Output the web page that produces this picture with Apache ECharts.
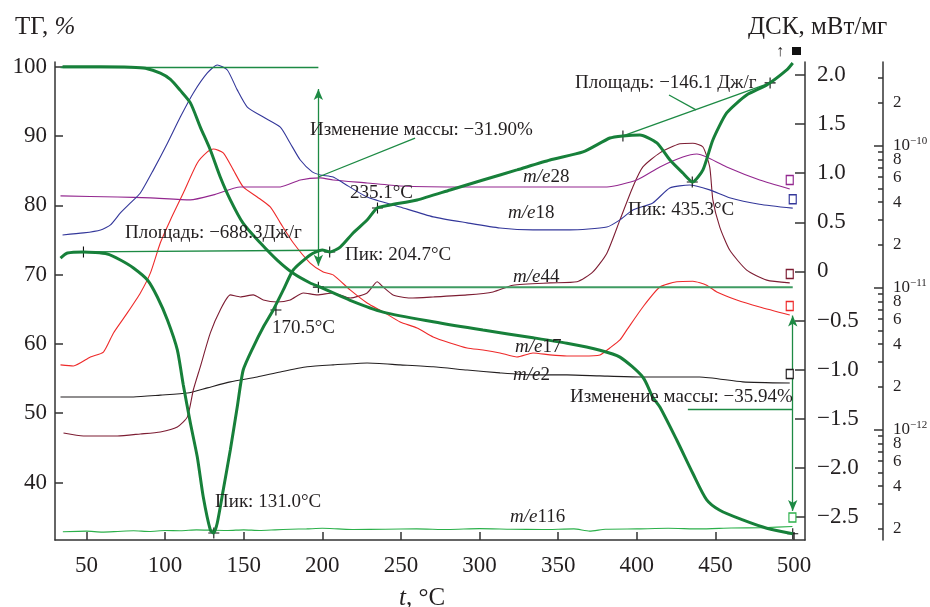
<!DOCTYPE html>
<html><head><meta charset="utf-8">
<script src="https://cdn.jsdelivr.net/npm/echarts@6/dist/echarts.min.js"></script>
<style>html,body{margin:0;padding:0;background:#fff}#c{width:930px;height:607px}</style>
</head><body><div id="c"></div>
<script>
// ---- data ----
const xTicks = [50,100,150,200,250,300,350,400,450,500];
const tgTicks = [40,50,60,70,80,90,100];
const dscTicks = [-2.5,-2.0,-1.5,-1.0,-0.5,0,0.5,1.0,1.5,2.0];
const ionLabelTicks = [2e-13,4e-13,6e-13,8e-13,1e-12,2e-12,4e-12,6e-12,8e-12,1e-11,2e-11,4e-11,6e-11,8e-11,1e-10,2e-10];
const ionDecades = [1e-12,1e-11,1e-10];
const ionMinor = [2e-13,3e-13,4e-13,5e-13,6e-13,7e-13,8e-13,9e-13,2e-12,3e-12,4e-12,5e-12,6e-12,7e-12,8e-12,9e-12,2e-11,3e-11,4e-11,5e-11,6e-11,7e-11,8e-11,9e-11,2e-10,3e-10];

// TG, %
const tg = [[34.8,100.0],[58.9,100.0],[78,99.95],[87.5,99.8],[97,99.1],[103.4,98.2],[109.7,96.6],[116.1,94.8],[122.4,91.3],[128.8,88.0],[135.1,84.1],[141.5,80.8],[149.7,77.4],[160.5,74.6],[171.3,72.1],[181.5,70.2],[192.3,68.8],[198.7,68.2],[217.7,66.3],[238.7,64.6],[270.5,63.2],[302.2,62.0],[334,60.9],[355.6,60.1],[376.6,59.1],[389.3,58.1],[403.9,55.2],[410.2,52.3],[414.7,50.9],[425.5,46.1],[435.7,41.3],[444.5,37.5],[452.8,36.0],[467.4,34.6],[482.7,33.4],[499.2,32.6]];
// DSC, mW/mg
const dsc = [[33.5,0.136],[37.9,0.187],[48.1,0.198],[63.3,0.177],[71.6,0.116],[79.9,0.035],[88.8,-0.088],[95.1,-0.261],[101.5,-0.495],[107.8,-0.800],[111.6,-1.157],[116.1,-1.544],[120.5,-1.890],[124.3,-2.297],[128.8,-2.633],[130.9,-2.664],[133.2,-2.562],[137.0,-2.226],[141.5,-1.819],[145.9,-1.381],[149.7,-1.004],[156.1,-0.770],[162.5,-0.566],[168.8,-0.393],[175.2,-0.189],[181.5,0.014],[192.3,0.167],[199.9,0.218],[205.0,0.198],[211.4,0.248],[219.6,0.391],[228.5,0.523],[234.9,0.646],[243.1,0.676],[260.3,0.727],[281.3,0.829],[302.2,0.931],[323.8,1.033],[344.8,1.134],[365.8,1.216],[382.9,1.358],[391.2,1.379],[402,1.389],[412.8,1.308],[421.1,1.134],[429.3,1.002],[435.5,0.910],[442.1,1.033],[448.4,1.338],[457.2,1.613],[469.9,1.796],[482.7,1.898],[495.4,2.051],[499.2,2.122]];
// ion currents, A
const ms18 = [[34.8,2.35e-11],[48.1,2.43e-11],[59,2.55e-11],[65.3,2.77e-11],[71.6,3.36e-11],[78,3.95e-11],[84.3,4.64e-11],[92.6,6.75e-11],[101.5,1.04e-10],[109.7,1.59e-10],[118,2.35e-10],[126.9,3.25e-10],[133.2,3.70e-10],[139.6,3.41e-10],[145.9,2.47e-10],[152.3,1.87e-10],[162.5,1.59e-10],[173.3,1.35e-10],[179.6,1.04e-10],[186,7.92e-11],[193.6,6.53e-11],[198.7,6.22e-11],[206.9,6.02e-11],[213.3,5.46e-11],[228.5,4.35e-11],[249.5,3.70e-11],[270.5,3.15e-11],[292.1,2.86e-11],[313,2.63e-11],[334,2.55e-11],[357.5,2.55e-11],[381,2.67e-11],[389.3,3.0e-11],[397.5,3.52e-11],[410.2,3.95e-11],[421,5.03e-11],[433.7,5.28e-11],[446.4,4.88e-11],[459,4.3e-11],[478,3.87e-11],[499.2,3.63e-11]];
const ms28 = [[33.5,4.43e-11],[69.7,4.35e-11],[90.7,4.29e-11],[116,4.15e-11],[130.7,4.5e-11],[147.8,5.12e-11],[173.3,5.12e-11],[186,5.73e-11],[198.7,5.93e-11],[206.9,5.73e-11],[228.5,5.46e-11],[249.5,5.2e-11],[292,5.12e-11],[334,5.12e-11],[381,5.12e-11],[400,5.73e-11],[414.7,7.08e-11],[429.3,8.32e-11],[438.2,8.74e-11],[444.5,8.32e-11],[457.2,7.08e-11],[478.2,5.73e-11],[497.3,4.95e-11]];
const ms17 = [[33.5,2.86e-12],[41.7,2.81e-12],[52.5,3.25e-12],[60.8,3.52e-12],[67.2,4.8e-12],[76,6.64e-12],[84.3,9.18e-12],[90.7,1.27e-11],[97,2.07e-11],[103.4,3.0e-11],[111.6,4.64e-11],[120.5,7.55e-11],[126.9,9.03e-11],[130.7,9.48e-11],[137,8.89e-11],[143.4,6.75e-11],[149.7,5.12e-11],[158.6,4.35e-11],[166.9,3.70e-11],[173.3,2.86e-11],[181.5,2.07e-11],[192.3,1.49e-11],[200.6,1.29e-11],[206.9,1.23e-11],[217.7,9.64e-12],[228.5,7.8e-12],[238.7,6.75e-12],[249.5,5.73e-12],[260.3,5.2e-12],[270.5,4.5e-12],[281.3,4.08e-12],[292.1,3.76e-12],[302.2,3.64e-12],[313,3.47e-12],[323.8,3.25e-12],[334,3.47e-12],[344.8,3.36e-12],[355.6,3.3e-12],[365.8,3.3e-12],[376.6,3.36e-12],[382.9,3.76e-12],[389.3,4.28e-12],[393.7,5.04e-12],[403.9,7.31e-12],[414.7,1.01e-11],[425.5,1.10e-11],[435.7,1.11e-11],[444.5,1.04e-11],[450.9,9.33e-12],[463.6,8.19e-12],[478.2,7.31e-12],[497.3,6.42e-12]];
const ms44 = [[35.4,9.48e-13],[48.1,9.03e-13],[69.7,9.03e-13],[84.3,9.33e-13],[97,9.64e-13],[107.8,1.045e-12],[114.2,1.23e-12],[118,1.91e-12],[122.4,2.77e-12],[128.8,4.8e-12],[135.1,6.97e-12],[141.5,8.89e-12],[147.8,8.6e-12],[156.1,8.89e-12],[162.5,8.19e-12],[171.3,7.92e-12],[179.6,8.19e-12],[187.9,9.18e-12],[196.8,8.89e-12],[206.9,9.18e-12],[217.7,8.45e-12],[228.5,9.18e-12],[234.9,1.10e-11],[238.7,1.01e-11],[245,8.89e-12],[255.8,8.45e-12],[270.5,8.6e-12],[292.1,8.89e-12],[308.6,9.33e-12],[321.3,1.04e-11],[344.8,1.08e-11],[362,1.10e-11],[372.1,1.29e-11],[381,1.75e-11],[389.3,3.0e-11],[397.5,5.12e-11],[403.9,7.08e-11],[414.7,8.89e-11],[427.4,1.03e-10],[435.7,1.04e-10],[442.1,9.79e-11],[446.4,7.08e-11],[448.4,4.15e-11],[452.8,2.67e-11],[459.1,1.84e-11],[469.9,1.33e-11],[482.7,1.13e-11],[497.3,1.08e-11]];
const ms2 = [[33.5,1.70e-12],[58.9,1.70e-12],[79.9,1.70e-12],[97,1.75e-12],[114.2,1.81e-12],[126.9,1.97e-12],[141.5,2.17e-12],[158.6,2.35e-12],[173.3,2.55e-12],[190.4,2.77e-12],[206.9,2.86e-12],[228.5,2.95e-12],[249.5,2.86e-12],[270.5,2.77e-12],[292.1,2.63e-12],[313,2.51e-12],[334,2.43e-12],[355.6,2.43e-12],[376.6,2.39e-12],[402,2.35e-12],[440,2.35e-12],[467.4,2.17e-12],[497.3,2.13e-12]];
const ms116 = [[35,1.91e-13],[50,1.93e-13],[60,1.90e-13],[70,1.92e-13],[80,1.94e-13],[90,1.92e-13],[100,1.95e-13],[110,1.94e-13],[120,1.97e-13],[130,1.96e-13],[140,1.95e-13],[150,1.97e-13],[160,1.95e-13],[170,1.97e-13],[180,1.99e-13],[190,2.0e-13],[200,2.02e-13],[210,2.0e-13],[220,1.98e-13],[240,1.99e-13],[260,2.0e-13],[280,1.98e-13],[300,2.01e-13],[320,1.99e-13],[340,1.98e-13],[360,2.0e-13],[370,1.93e-13],[380,1.99e-13],[400,2.0e-13],[420,2.02e-13],[440,2.0e-13],[460,2.03e-13],[480,2.04e-13],[499,2.08e-13]];

// annotation geometry in data coordinates
const tgLines = [
  {a:[33.5,100],b:[197.5,100]},
  {a:[197.5,96.8],b:[197.5,71.3],arrow:true},
  {a:[197.5,84.1],b:[259,89.7]},
  {a:[432.5,50.6],b:[499.2,50.6]},
  {a:[499.2,64.1],b:[499.2,35.9],arrow:true}
];
const tgLevel = [[197.5,68.2],[499.2,68.2]];
const dscLines = [
  {a:[48.1,0.198],b:[199.5,0.215]},
  {a:[391.2,1.379],b:[484.8,1.919]},
  {a:[420.5,1.796],b:[437.7,1.644]}
];
const dscMarks = [[48.1,0.198],[131.0,-2.664],[170.5,-0.393],[204.7,0.198],[235.1,0.646],[391.2,1.379],[435.3,0.910],[484.8,1.919]];
const tgMarks = [[197.5,68.2],[499.2,32.6]];

const FONT = 'Liberation Serif';
const TXT = '#231f20';
const GREEN = '#17803a';
const THIN = '#1d8a44';
const cross = 'path://M-0.6,-6H0.6V-0.6H6V0.6H0.6V6H-0.6V0.6H-6V-0.6H-0.6Z';
const lg = v => Math.log10(v);

function ion(name, arr, color){
  const d = arr.map(p => [p[0], lg(p[1])]);
  const last = d[d.length-1];
  return {type:'line', name, yAxisIndex:2, data:d, showSymbol:false, smooth:0.2,
    lineStyle:{width:1.1,color}, itemStyle:{color}, silent:true, z:3,
    markPoint:{silent:true, animation:false, symbol:'rect', symbolSize:[7,9], symbolOffset:[0,-9],
      itemStyle:{color:'#fff', borderColor:color, borderWidth:1.3}, label:{show:false},
      data:[{coord:last}]}};
}
function ml(list, color, width){
  return list.map(l => [
    {coord:l.a, symbol:l.arrow?'arrow':'none', symbolSize:[7,11], lineStyle:{color,width}},
    {coord:l.b, symbol:l.arrow?'arrow':'none', symbolSize:[7,11]}
  ]);
}

const chart = echarts.init(document.getElementById('c'), null, {renderer:'canvas'});
const txt = (x,y,text,size,extra) => ({type:'text', x, y, silent:true, z:50,
  style:Object.assign({text, fill:TXT, fontSize:size||19, fontFamily:FONT, verticalAlign:'middle', align:'left'}, extra||{})});
const me = (x,y,num) => txt(x,y,'{i|m/e}{n|'+num+'}',19,{rich:{i:{fontStyle:'italic',fontSize:19,fontFamily:FONT,fill:TXT},n:{fontSize:19,fontFamily:FONT,fill:TXT}}});

chart.setOption({
  animation:false,
  backgroundColor:'#fff',
  grid:{left:55,right:125,top:62,bottom:67,containLabel:false,outerBoundsMode:'none'},
  xAxis:{type:'value', min:30, max:507,
    axisLine:{onZero:false,lineStyle:{color:'#333',width:1.5}},
    axisTick:{inside:true,length:8,customValues:xTicks,lineStyle:{color:'#333',width:1.5}},
    axisLabel:{customValues:xTicks,fontSize:23,fontFamily:FONT,color:TXT,margin:14},
    splitLine:{show:false},
    name:'{i|t}{n|, °C}', nameLocation:'middle', nameGap:46,
    nameTextStyle:{fontSize:25,fontFamily:FONT,color:TXT,padding:[0,16,0,0],
      rich:{i:{fontStyle:'italic',fontSize:25,fontFamily:FONT,color:TXT},n:{fontSize:25,fontFamily:FONT,color:TXT}}}},
  yAxis:[
    {type:'value', position:'left', min:31.7, max:100.7,
      axisLine:{show:true,onZero:false,lineStyle:{color:'#333',width:1.5}},
      axisTick:{show:true,inside:true,length:8,customValues:tgTicks,lineStyle:{color:'#333',width:1.5}},
      axisLabel:{customValues:tgTicks,fontSize:23,fontFamily:FONT,color:TXT,margin:8},
      splitLine:{show:false}},
    {type:'value', position:'right', min:-2.735, max:2.132,
      axisLine:{show:true,onZero:false,lineStyle:{color:'#333',width:1.5}},
      axisTick:{show:true,inside:true,length:10,customValues:dscTicks,lineStyle:{color:'#333',width:1.5}},
      axisLabel:{customValues:dscTicks,fontSize:23,fontFamily:FONT,color:TXT,margin:12,
        formatter:v => { if (Math.abs(v)<1e-9) return '0'; const s=Math.abs(v).toFixed(1); return v<0?'\u2212'+s:s; }},
      splitLine:{show:false}},
    {type:'value', position:'right', offset:78, min:-12.777, max:-9.411,
      axisLine:{show:true,onZero:false,lineStyle:{color:'#333',width:1.5}},
      axisTick:{show:true,inside:true,length:5,customValues:ionMinor.map(lg),lineStyle:{color:'#333',width:1.5}},
      axisLabel:{customValues:ionLabelTicks.map(lg),margin:10,
        formatter:v => { const e=Math.floor(v+1e-6); const m=Math.round(Math.pow(10,v-e)); return m===1?'{a|10}{s|\u2212'+(-e)+'}':'{a|'+m+'}'; },
        rich:{a:{fontSize:17,fontFamily:FONT,color:TXT},s:{fontSize:11,fontFamily:FONT,color:TXT,padding:[0,0,10,0]}}},
      splitLine:{show:false}},
    {type:'value', position:'right', offset:78, min:-12.777, max:-9.411,
      axisLine:{show:false,onZero:false},
      axisTick:{show:true,inside:true,length:9,customValues:ionDecades.map(lg),lineStyle:{color:'#333',width:1.5}},
      axisLabel:{show:false}, splitLine:{show:false}}
  ],
  series:[
    ion('m/e116', ms116, '#2bb04a'),
    ion('m/e2', ms2, '#231f20'),
    ion('m/e44', ms44, '#7d1d33'),
    ion('m/e17', ms17, '#ee2a2a'),
    ion('m/e28', ms28, '#93278f'),
    ion('m/e18', ms18, '#33379a'),
    {type:'line', name:'level', yAxisIndex:0, data:tgLevel, showSymbol:false, silent:true, z:4,
      lineStyle:{width:2,color:'#3f9b62'}},
    {type:'line', name:'ТГ', yAxisIndex:0, data:tg, showSymbol:false, smooth:0.25, silent:true, z:6,
      lineStyle:{width:3,color:GREEN}, itemStyle:{color:GREEN},
      markLine:{silent:true, animation:false, symbol:['none','none'], label:{show:false},
        lineStyle:{type:'solid',color:THIN,width:1.3}, data:ml(tgLines, THIN, 1.3)},
      markPoint:{silent:true, animation:false, symbol:cross, symbolSize:11, itemStyle:{color:'#111'}, label:{show:false},
        data:tgMarks.map(c=>({coord:c}))}},
    {type:'line', name:'ДСК', yAxisIndex:1, data:dsc, showSymbol:false, smooth:0.2, silent:true, z:6,
      lineStyle:{width:3,color:GREEN}, itemStyle:{color:GREEN},
      markLine:{silent:true, animation:false, symbol:['none','none'], label:{show:false},
        lineStyle:{type:'solid',color:THIN,width:1.3}, data:ml(dscLines, THIN, 1.3)},
      markPoint:{silent:true, animation:false, symbol:cross, symbolSize:11, itemStyle:{color:'#111'}, label:{show:false},
        data:dscMarks.map(c=>({coord:c}))}}
  ],
  graphic:[
    txt(15,27,'{a|ТГ, }{b|%}',25,{rich:{a:{fontSize:25,fontFamily:FONT,fill:TXT},b:{fontSize:25,fontFamily:FONT,fontStyle:'italic',fill:TXT}}}),
    txt(748,27,'ДСК, мВт/мг',25),
    txt(310,130,'Изменение массы: \u221231.90%'),
    txt(350,193,'235.1°C'),
    txt(125,233,'Площадь: \u2212688.3Дж/г'),
    txt(345,255,'Пик: 204.7°C'),
    txt(272,328,'170.5°C'),
    txt(215,502,'Пик: 131.0°C'),
    txt(628,210,'Пик: 435.3°C'),
    txt(575,83,'Площадь: \u2212146.1 Дж/г'),
    txt(570,397,'Изменение массы: \u221235.94%'),
    me(523,177,'28'), me(508,213,'18'), me(513,277,'44'), me(515,347,'17'), me(513,375,'2'), me(510,517,'116'),
    txt(776,52,'\u2191',16,{fontWeight:'bold'}),
    {type:'rect', shape:{x:792,y:47,width:9,height:8}, style:{fill:'#111'}, silent:true, z:50}
  ]
});
</script></body></html>
